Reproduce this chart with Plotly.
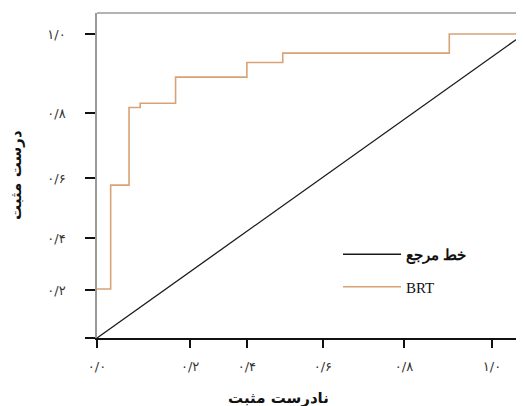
import plotly.graph_objects as go

# ROC step curve (BRT)
fpr = [0.0, 0.032, 0.075, 0.101, 0.184, 0.351, 0.435, 0.825, 1.0]
tpr = [0.161, 0.503, 0.758, 0.772, 0.858, 0.906, 0.937, 1.0, 1.0]

# reference (chance) line
ref_x = [0.0, 1.0]
ref_y = [0.0, 1.0]

# tick labels (as placed in the reference)
x_tick_vals = [0.0, 0.218, 0.351, 0.529, 0.719, 0.925]
x_tick_text = ["۰/۰", "۰/۲", "۰/۴", "۰/۶", "۰/۸", "۱/۰"]
y_tick_vals = [0.0, 0.158, 0.329, 0.526, 0.740, 1.0]
y_tick_text = ["", "۰/۲", "۰/۴", "۰/۶", "۰/۸", "۱/۰"]

fig = go.Figure()
fig.add_trace(go.Scatter(x=ref_x, y=ref_y, mode="lines", name="<b>خط مرجع</b>",
                         legendgroup="a",
                         line=dict(color="#1a1a1a", width=1.3)))
fig.add_trace(go.Scatter(x=fpr, y=tpr, mode="lines", name="BRT", line_shape="hv",
                         legendgroup="b",
                         line=dict(color="#D9A274", width=1.6)))

fig.update_layout(
    width=516, height=398,
    margin=dict(l=89, r=0, t=5, b=68),
    paper_bgcolor="white", plot_bgcolor="white",
    font=dict(family="DejaVu Sans", color="#222", size=12),
    showlegend=True,
    legend=dict(x=(338 - 97) / 427, y=(338 - 238) / 325, xanchor="left", yanchor="top",
                bgcolor="rgba(0,0,0,0)", font=dict(size=15, family="Liberation Serif", color="#111"),
                tracegroupgap=10, itemwidth=58),
    xaxis=dict(range=[0, 1.0], showgrid=False, zeroline=False,
               showline=True, linecolor="#111", linewidth=1.5,
               ticks="outside", ticklen=8, tickcolor="#111", tickwidth=1.5,
               tickvals=x_tick_vals, ticktext=x_tick_text, ticklabelstandoff=8,
               tickfont=dict(size=13, color="#333")),
    yaxis=dict(range=[0, 1.069], showgrid=False, zeroline=False,
               showline=True, linecolor="#999", linewidth=1.5,
               ticks="outside", ticklen=10, tickcolor="#111", tickwidth=1.5,
               tickvals=y_tick_vals, ticktext=y_tick_text, ticklabelstandoff=17,
               tickfont=dict(size=13, color="#333")),
    shapes=[dict(type="line", xref="paper", yref="paper", x0=0, x1=1, y0=1, y1=1,
                 line=dict(color="#999", width=1.5))],
    annotations=[
        dict(text="<b>نادرست مثبت</b>", xref="paper", yref="paper", x=(278 - 97) / 427,
             y=(338 - 398) / 325, xanchor="center", yanchor="middle", showarrow=False,
             font=dict(size=15, color="#111")),
        dict(text="<b>درست مثبت</b>", xref="paper", yref="paper", x=(16 - 97) / 427,
             y=(338 - 175) / 325, xanchor="center", yanchor="middle", showarrow=False,
             textangle=-90, font=dict(size=15, color="#111")),
    ],
)

fig.write_html("out.html")
